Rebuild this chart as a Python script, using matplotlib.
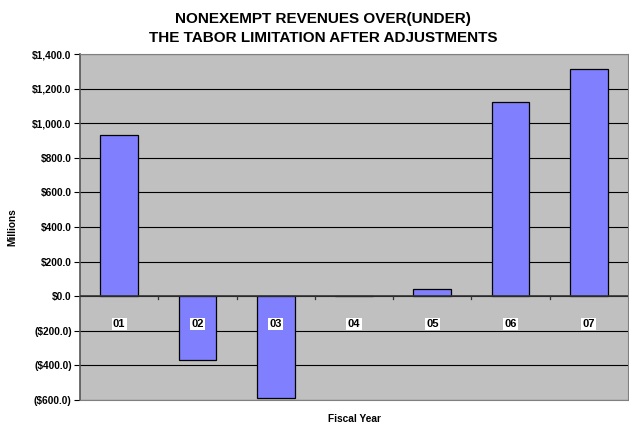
import matplotlib.pyplot as plt
from matplotlib.ticker import FuncFormatter

plt.rcParams['font.family'] = ['Liberation Sans', 'DejaVu Sans']

# data (millions of dollars)
years = ['01', '02', '03', '04', '05', '06', '07']
values = [930, -368, -587, 0, 39, 1122, 1312]

fig = plt.figure(figsize=(6.29, 4.24), dpi=100)
ax = fig.add_axes([80 / 629, 24 / 424, 548 / 629, 346 / 424])

ax.set_facecolor('#C0C0C0')
x = range(len(years))
ax.bar(x, values, width=0.48, color='#8080FF', edgecolor='black', linewidth=0.9, zorder=3)

ax.set_xlim(-0.5, len(years) - 0.5)
ax.set_ylim(-600, 1400)
ax.set_yticks(range(-600, 1401, 200))

def money(v, pos):
    if v < 0:
        return '(${:,.1f})'.format(-v)
    return '${:,.1f}'.format(v)

ax.yaxis.set_major_formatter(FuncFormatter(money))
ax.tick_params(axis='y', labelsize=7.3, length=4, width=0.8, pad=2)
for lab in ax.get_yticklabels():
    lab.set_fontweight('bold')

ax.grid(axis='y', color='black', linewidth=0.8, zorder=1)
ax.set_xticks([])

# zero line with category boundary ticks
ax.axhline(0, color='#333333', linewidth=1.2, zorder=4)
for b in range(1, len(years)):
    ax.plot([b - 0.5, b - 0.5], [0, -18], color='#333333', linewidth=0.9, zorder=4)

# category labels inside the plot with white boxes
for i, yr in enumerate(years):
    ax.text(i, -160, yr, ha='center', va='center', fontsize=8, fontweight='bold',
            bbox=dict(facecolor='white', edgecolor='none', pad=1), zorder=5)

for s in ['top', 'right', 'bottom']:
    ax.spines[s].set_color('#808080')
ax.spines['left'].set_color('#555555')
ax.spines['left'].set_linewidth(1.2)

ax.set_ylabel('Millions', fontsize=7.3, fontweight='bold', labelpad=11)
ax.set_xlabel('Fiscal Year', fontsize=7.3, fontweight='bold', labelpad=10)
fig.suptitle('NONEXEMPT REVENUES OVER(UNDER)\nTHE TABOR LIMITATION AFTER ADJUSTMENTS',
             x=323 / 629, y=0.972, fontsize=11, fontweight='bold', linespacing=1.45)

plt.savefig('out.png', dpi=100)
